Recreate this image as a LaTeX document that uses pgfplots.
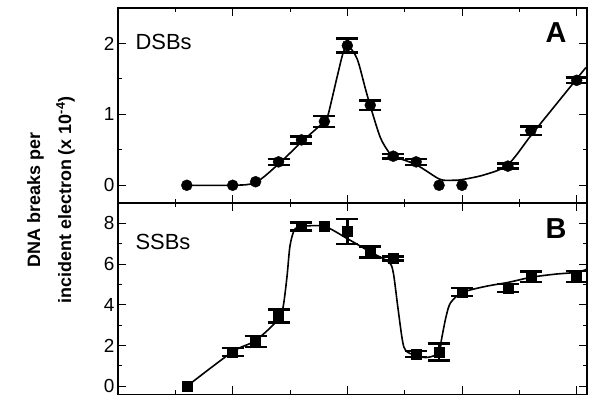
\documentclass[border=0pt]{standalone}
\usepackage{fontspec}
\setmainfont{Liberation Sans}
\usepackage{pgfplots}
\pgfplotsset{compat=1.18}

% DSBs, panel A
\pgfplotstableread{
x   y     e
7   0.33  0.04
8   0.64  0.05
9   0.90  0.08
10  1.97  0.10
11  1.13  0.065
12  0.41  0.035
13  0.33  0.04
17  0.27  0.035
18  0.77  0.06
20  1.48  0.04
}\dsberr
\pgfplotstableread{
x   y
3   0.00
5   0.00
6   0.05
14  0.00
15  0.00
}\dsbplain
\pgfplotstableread{
x     y
3     0.00
5     0.00
6     0.04
7     0.30
8     0.61
9     0.90
9.15  0.98
9.57  1.55
9.83  1.88
10.05 1.96
10.43 1.78
10.78 1.37
11    1.12
11.43 0.68
11.8  0.47
12    0.41
13    0.29
14    0.09
14.5  0.07
15    0.08
16    0.15
17    0.29
18    0.70
19    1.10
20    1.50
20.4  1.66
}\dsbfit

% SSBs, panel B
\pgfplotstableread{
x   y     e
5   1.68  0.20
6   2.20  0.27
7   3.45  0.32
8   7.85  0.20
10  7.60  0.60
11  6.60  0.27
12  6.27  0.10
13  1.58  0.15
14  1.68  0.42
15  4.64  0.20
17  4.83  0.20
18  5.38  0.25
20  5.38  0.27
}\ssberr
\pgfplotstableread{
x   y
3   0.00
9   7.85
}\ssbplain
\pgfplotstableread{
x     y
3     0.00
5     1.70
6     2.25
7     3.30
7.2   3.90
7.37  5.40
7.5   6.90
7.7   7.70
8     7.85
9     7.85
10    7.25
11    6.60
11.8  6.10
12    5.60
12.2  3.90
12.4  2.27
12.55 1.75
13    1.50
13.5  1.42
14    1.65
14.1  2.27
14.3  3.40
14.5  4.10
15    4.60
16    4.90
17    5.10
18    5.35
19    5.50
20    5.60
20.45 5.75
}\ssbfit

\pgfplotsset{
  panel/.style={
    scale only axis, width=469bp, anchor=south west,
    xmin=0, xmax=20.45,
    xtick={0,5,10,15,20}, minor xtick={2.5,7.5,12.5,17.5},
    xticklabels={},
    tick align=inside,
    major tick length=8bp, minor tick length=4bp,
    every tick/.style={black, line width=1bp},
    axis line style={line width=1.2bp},
    ticklabel style={font=\fontsize{19}{19}\selectfont},
    /pgf/number format/assume math mode=true,
    clip=false,
  },
  fit/.style={black, line width=1.6bp, smooth, no marks},
  errs/.style={black, only marks, mark size=0pt,
    error bars/.cd, y dir=both, y explicit,
    error bar style={line width=2.4bp},
    error mark options={line width=2.4bp, mark size=11bp, rotate=90}},
}

\begin{document}
\begin{tikzpicture}
\useasboundingbox (0,0) rectangle (600bp,400bp);

\begin{axis}[panel, at={(118bp,197bp)}, height=195bp,
    ymin=-0.25, ymax=2.5, ytick={0,1,2}, minor ytick={0.5,1.5}]
  \addplot[fit] table {\dsbfit};
  \addplot[errs] table[y error=e] {\dsberr};
  \addplot[black, only marks, mark=*, mark size=5.5bp] table {\dsberr};
  \addplot[black, only marks, mark=*, mark size=5.5bp] table {\dsbplain};
  \node[anchor=west, font=\fontsize{22}{22}\selectfont] at (rel axis cs:0.03,0.826) {DSBs};
  \node[font=\bfseries\fontsize{29}{29}\selectfont] at (rel axis cs:0.934,0.872) {A};
\end{axis}

\begin{axis}[panel, at={(118bp,5.5bp)}, height=191.5bp,
    ymin=-0.4, ymax=9, ytick={0,2,4,6,8}, minor ytick={1,3,5,7}]
  \addplot[fit] table {\ssbfit};
  \addplot[errs] table[y error=e] {\ssberr};
  \addplot[black, only marks, mark=square*, mark size=5bp] table {\ssberr};
  \addplot[black, only marks, mark=square*, mark size=5bp] table {\ssbplain};
  \node[anchor=west, font=\fontsize{22}{22}\selectfont] at (rel axis cs:0.03,0.796) {SSBs};
  \node[font=\bfseries\fontsize{29}{29}\selectfont] at (rel axis cs:0.934,0.869) {B};
\end{axis}

\node[rotate=90, align=center, font=\bfseries\fontsize{18}{31}\selectfont]
  at (51bp,200bp) {DNA breaks per\\incident electron (x 10\textsuperscript{-4})};
\end{tikzpicture}
\end{document}
